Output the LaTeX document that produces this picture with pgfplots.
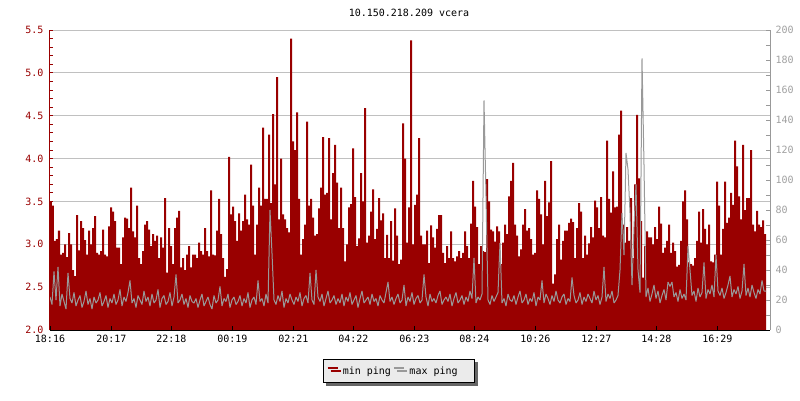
\documentclass[border=0pt]{standalone}
\usepackage{pgfplots}
\pgfplotsset{compat=1.18}
\usepackage{pgfplotstable}
\usepackage{fontspec}
\setmainfont{DejaVu Sans Mono}
\usetikzlibrary{shadows}

\definecolor{minred}{HTML}{990000}
\definecolor{maxgray}{HTML}{999999}
\definecolor{gridgray}{HTML}{C0C0C0}
\definecolor{labelgray}{HTML}{A0A0A0}
\definecolor{legendfill}{HTML}{EBEBEB}
\definecolor{shadowgray}{HTML}{666666}

% min ping, one value per 2px column (left axis, ms)
\pgfplotstableread[row sep=\\]{
v\\
3.50\\ 3.45\\ 3.04\\ 3.06\\ 3.16\\ 2.88\\ 2.90\\ 3.00\\ 2.85\\ 3.13\\ 3.00\\ 2.70\\
2.63\\ 3.34\\ 2.93\\ 3.27\\ 3.19\\ 3.05\\ 2.88\\ 3.16\\ 3.00\\ 3.19\\ 3.33\\ 2.90\\
2.88\\ 2.92\\ 3.17\\ 2.88\\ 2.86\\ 3.21\\ 3.43\\ 3.38\\ 3.27\\ 2.96\\ 2.96\\ 2.77\\
3.08\\ 3.31\\ 3.30\\ 3.19\\ 3.66\\ 3.15\\ 3.08\\ 3.45\\ 2.84\\ 2.77\\ 2.92\\ 3.23\\
3.27\\ 3.17\\ 2.98\\ 3.12\\ 3.04\\ 3.10\\ 2.84\\ 3.08\\ 2.96\\ 3.54\\ 2.67\\ 3.19\\
2.98\\ 2.77\\ 3.19\\ 3.31\\ 3.39\\ 2.73\\ 2.84\\ 2.70\\ 2.88\\ 2.98\\ 2.73\\ 2.88\\
2.88\\ 2.84\\ 3.02\\ 2.92\\ 2.88\\ 3.19\\ 2.92\\ 2.86\\ 3.63\\ 2.88\\ 2.87\\ 3.16\\
3.53\\ 3.12\\ 2.84\\ 2.62\\ 2.71\\ 4.02\\ 3.35\\ 3.44\\ 3.27\\ 3.04\\ 3.36\\ 3.16\\
3.27\\ 3.58\\ 3.29\\ 3.23\\ 3.93\\ 3.45\\ 2.88\\ 3.23\\ 3.66\\ 3.45\\ 4.36\\ 3.53\\
3.53\\ 4.28\\ 3.48\\ 4.52\\ 3.70\\ 4.95\\ 3.29\\ 4.00\\ 3.35\\ 3.29\\ 3.19\\ 3.14\\
5.40\\ 4.20\\ 4.10\\ 4.54\\ 3.53\\ 2.88\\ 3.06\\ 3.23\\ 4.43\\ 3.45\\ 3.53\\ 3.31\\
3.10\\ 3.12\\ 3.42\\ 3.66\\ 4.25\\ 3.58\\ 3.60\\ 4.24\\ 3.29\\ 3.83\\ 4.16\\ 3.72\\
3.19\\ 3.66\\ 3.19\\ 2.80\\ 3.00\\ 3.43\\ 3.47\\ 4.12\\ 3.55\\ 2.98\\ 3.07\\ 3.83\\
3.50\\ 4.59\\ 3.02\\ 3.10\\ 3.38\\ 3.64\\ 3.06\\ 3.18\\ 3.54\\ 3.28\\ 3.36\\ 2.84\\
3.11\\ 2.84\\ 3.27\\ 2.81\\ 3.42\\ 3.10\\ 2.77\\ 2.82\\ 4.41\\ 4.00\\ 3.02\\ 3.43\\
5.38\\ 3.00\\ 3.46\\ 3.58\\ 4.24\\ 3.10\\ 3.00\\ 3.00\\ 3.16\\ 2.78\\ 3.22\\ 3.08\\
2.96\\ 3.18\\ 3.34\\ 3.34\\ 2.90\\ 2.78\\ 2.98\\ 2.84\\ 3.15\\ 2.84\\ 2.80\\ 2.86\\
2.92\\ 2.84\\ 2.90\\ 3.15\\ 2.98\\ 2.84\\ 3.24\\ 3.74\\ 3.44\\ 3.20\\ 2.77\\ 2.98\\
2.92\\ 2.91\\ 3.76\\ 3.50\\ 3.17\\ 3.15\\ 3.03\\ 3.21\\ 3.15\\ 2.77\\ 3.02\\ 3.23\\
3.12\\ 3.56\\ 3.74\\ 3.95\\ 3.23\\ 3.10\\ 2.86\\ 2.94\\ 3.23\\ 3.41\\ 3.16\\ 3.19\\
3.06\\ 2.88\\ 2.90\\ 3.63\\ 3.53\\ 3.35\\ 3.00\\ 3.74\\ 3.33\\ 3.49\\ 3.97\\ 2.54\\
2.65\\ 3.06\\ 3.23\\ 2.82\\ 3.04\\ 3.16\\ 3.16\\ 3.25\\ 3.30\\ 3.26\\ 2.84\\ 3.19\\
3.48\\ 3.38\\ 2.84\\ 3.10\\ 2.88\\ 3.01\\ 3.20\\ 3.08\\ 3.51\\ 3.43\\ 3.19\\ 3.55\\
3.10\\ 3.08\\ 4.21\\ 3.53\\ 3.37\\ 3.85\\ 3.43\\ 3.44\\ 4.28\\ 4.56\\ 3.23\\ 3.02\\
3.20\\ 3.04\\ 3.54\\ 2.84\\ 3.70\\ 4.51\\ 3.77\\ 3.27\\ 2.61\\ 2.98\\ 3.15\\ 3.08\\
3.08\\ 3.00\\ 3.20\\ 3.06\\ 3.44\\ 3.24\\ 2.90\\ 2.96\\ 3.04\\ 3.23\\ 2.90\\ 3.02\\
2.92\\ 2.74\\ 2.76\\ 3.04\\ 3.50\\ 3.63\\ 3.29\\ 2.79\\ 2.77\\ 2.75\\ 2.84\\ 3.04\\
3.38\\ 3.02\\ 3.41\\ 3.18\\ 3.00\\ 3.23\\ 2.80\\ 2.79\\ 2.88\\ 3.73\\ 3.45\\ 2.88\\
3.18\\ 3.73\\ 3.25\\ 3.31\\ 3.60\\ 3.46\\ 4.21\\ 3.91\\ 3.56\\ 3.29\\ 4.16\\ 3.40\\
3.54\\ 3.54\\ 4.10\\ 3.23\\ 3.15\\ 3.39\\ 3.23\\ 3.20\\ 3.28\\ 3.12\\ 3.12\\
}\minping

% max ping, same columns (right axis, ms)
\pgfplotstableread[row sep=\\]{
v\\
22\\ 17\\ 39\\ 20\\ 42\\ 16\\ 24\\ 19\\ 14\\ 38\\ 21\\ 18\\ 25\\ 16\\ 20\\ 23\\ 15\\ 19\\ 26\\ 17\\ 21\\ 14\\ 22\\ 18\\
20\\ 25\\ 16\\ 19\\ 23\\ 15\\ 21\\ 18\\ 24\\ 17\\ 20\\ 27\\ 16\\ 22\\ 19\\ 25\\ 33\\ 18\\ 21\\ 15\\ 23\\ 20\\ 17\\ 26\\
19\\ 22\\ 16\\ 24\\ 18\\ 20\\ 27\\ 15\\ 21\\ 23\\ 17\\ 19\\ 25\\ 16\\ 22\\ 37\\ 18\\ 20\\ 24\\ 17\\ 21\\ 15\\ 23\\ 19\\
18\\ 21\\ 15\\ 20\\ 24\\ 16\\ 19\\ 22\\ 17\\ 14\\ 23\\ 18\\ 20\\ 29\\ 16\\ 21\\ 19\\ 24\\ 15\\ 20\\ 22\\ 17\\ 19\\ 23\\
16\\ 21\\ 18\\ 25\\ 15\\ 20\\ 22\\ 17\\ 33\\ 19\\ 21\\ 16\\ 24\\ 18\\ 80\\ 51\\ 20\\ 17\\ 23\\ 19\\ 26\\ 15\\ 21\\ 18\\
24\\ 20\\ 17\\ 22\\ 19\\ 25\\ 16\\ 21\\ 23\\ 18\\ 38\\ 20\\ 17\\ 40\\ 22\\ 19\\ 24\\ 16\\ 21\\ 26\\ 18\\ 20\\ 23\\ 17\\
21\\ 18\\ 24\\ 16\\ 22\\ 19\\ 25\\ 17\\ 20\\ 23\\ 15\\ 21\\ 26\\ 18\\ 20\\ 22\\ 17\\ 24\\ 19\\ 21\\ 16\\ 23\\ 20\\ 18\\
25\\ 32\\ 19\\ 22\\ 17\\ 21\\ 24\\ 18\\ 20\\ 30\\ 16\\ 22\\ 19\\ 25\\ 17\\ 21\\ 23\\ 18\\ 20\\ 37\\ 22\\ 16\\ 24\\ 19\\
21\\ 18\\ 23\\ 26\\ 17\\ 20\\ 22\\ 19\\ 24\\ 16\\ 21\\ 25\\ 18\\ 20\\ 23\\ 17\\ 22\\ 19\\ 26\\ 21\\ 48\\ 18\\ 22\\ 20\\
24\\ 153\\ 89\\ 20\\ 17\\ 23\\ 19\\ 22\\ 25\\ 58\\ 18\\ 21\\ 16\\ 24\\ 20\\ 19\\ 23\\ 17\\ 22\\ 26\\ 18\\ 20\\ 24\\ 17\\
21\\ 19\\ 25\\ 16\\ 22\\ 20\\ 33\\ 18\\ 24\\ 21\\ 17\\ 23\\ 19\\ 26\\ 20\\ 18\\ 22\\ 24\\ 17\\ 21\\ 19\\ 35\\ 23\\ 18\\
20\\ 25\\ 17\\ 22\\ 19\\ 24\\ 21\\ 18\\ 26\\ 20\\ 23\\ 17\\ 22\\ 42\\ 19\\ 24\\ 21\\ 26\\ 18\\ 20\\ 23\\ 40\\ 78\\ 50\\
118\\ 107\\ 78\\ 30\\ 69\\ 97\\ 40\\ 25\\ 181\\ 110\\ 22\\ 28\\ 19\\ 24\\ 30\\ 21\\ 26\\ 18\\ 23\\ 27\\ 20\\ 32\\ 29\\ 32\\
22\\ 25\\ 19\\ 27\\ 21\\ 24\\ 20\\ 56\\ 40\\ 23\\ 26\\ 19\\ 28\\ 22\\ 25\\ 45\\ 21\\ 27\\ 24\\ 30\\ 22\\ 50\\ 26\\ 23\\
28\\ 21\\ 25\\ 30\\ 36\\ 22\\ 27\\ 24\\ 29\\ 21\\ 26\\ 44\\ 23\\ 28\\ 22\\ 30\\ 25\\ 21\\ 27\\ 24\\ 33\\ 26\\ 26\\
}\maxping

\pgfplotsset{
  base/.style={
    scale only axis, width=720pt, height=300pt,
    at={(50pt,70pt)}, anchor=south west,
    xmin=0, xmax=360,
    tick align=inside,
    font=\fontsize{10}{12}\selectfont,
    /pgf/number format/assume math mode=true,
  },
}

\begin{document}
\begin{tikzpicture}
\path[use as bounding box] (0pt,0pt) rectangle (800pt,400pt);

% left axis: min ping
\begin{axis}[base,
    axis x line=none, axis y line*=left,
    y axis line style={minred, line width=1pt, -},
    ymin=2, ymax=5.5, ytick distance=0.5, minor y tick num=4,
    ymajorgrids, major grid style={gridgray, line width=1pt},
    y tick style={minred, line width=1pt},
    major tick length=3.5pt, minor tick length=3pt,
    yticklabel style={color=minred, xshift=-3pt,
      /pgf/number format/fixed, /pgf/number format/fixed zerofill,
      /pgf/number format/precision=1},
    xtick=\empty,
]
\addplot[draw=none, fill=minred, const plot]
  table[x expr=\coordindex, y=v] {\minping} \closedcycle;
\end{axis}

% right axis: max ping
\begin{axis}[base,
    axis x line*=bottom, axis y line*=right,
    x axis line style={black, line width=1pt, -},
    y axis line style={maxgray, line width=1pt, -},
    ymin=0, ymax=200, ytick distance=20, minor y tick num=1,
    x tick style={black, line width=1pt},
    y tick style={maxgray, line width=1pt},
    major tick length=4.5pt, minor tick length=4pt,
    xtick={0,30.67,60.67,91.17,121.67,151.67,182.17,212.17,242.67,273.17,303.17,333.67},
    xticklabels={18:16,20:17,22:18,00:19,02:21,04:22,06:23,08:24,10:26,12:27,14:28,16:29},
    xticklabel style={yshift=-2pt},
    yticklabel style={color=labelgray, xshift=2pt},
    legend image code/.code={\draw[#1] (0pt,3pt) -- (10pt,3pt);},
    legend style={at={(0.4847,-0.1367)}, anchor=center, legend columns=-1,
      draw=black, line width=1pt, fill=legendfill,
      inner xsep=3pt, inner ysep=5pt,
      drop shadow={shadow xshift=3pt, shadow yshift=-3pt, fill=shadowgray, opacity=1},
      font=\fontsize{10}{12}\selectfont,
      /tikz/every odd column/.append style={column sep=2pt}},
]
\addlegendimage{minred, line width=2.5pt}
\addlegendimage{maxgray, line width=2.5pt}
\addplot[maxgray, line width=1pt, line join=bevel, sharp plot, forget plot]
  table[x expr=\coordindex, y=v] {\maxping};
\legend{min ping, max ping\hspace*{12pt}}
\end{axis}

\node[font=\fontsize{10}{12}\selectfont] at (409pt,387pt) {10.150.218.209 vcera};
\end{tikzpicture}
\end{document}
